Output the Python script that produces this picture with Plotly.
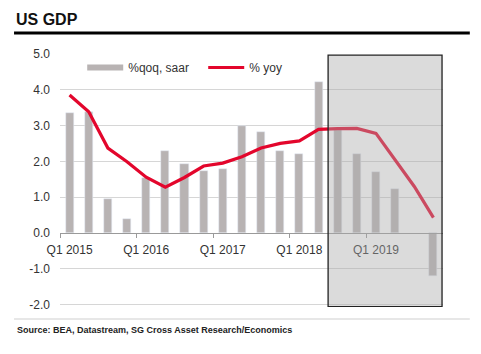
import plotly.graph_objects as go

quarters = [f"Q{q} {y}" for y in range(2015, 2020) for q in range(1, 5)]
qoq_saar = [3.34, 3.37, 0.96, 0.38, 1.53, 2.28, 1.94, 1.74, 1.78, 2.99,
            2.81, 2.28, 2.21, 4.22, 2.87, 2.20, 1.70, 1.22, None, -1.20]
yoy = [3.85, 3.38, 2.37, 1.99, 1.56, 1.28, 1.55, 1.87, 1.95, 2.13,
       2.37, 2.50, 2.57, 2.89, 2.91, 2.92, 2.78, 2.04, 1.30, 0.43]
tick_labels = ["Q1 2015", "Q1 2016", "Q1 2017", "Q1 2018", "Q1 2019"]
y_ticks = [5, 4, 3, 2, 1, 0, -1, -2]

idx = list(range(len(quarters)))
bar_color = "#b8b3b3"
red = "#e3062c"
font = "Liberation Sans, Arial, sans-serif"

y_lo, y_hi = -2.06, 5.02
H = 254  # plot height in px

fig = go.Figure()
fig.add_trace(go.Bar(x=idx, y=qoq_saar, width=0.42, marker_color=bar_color,
                     name="%qoq, saar", legendgroup="qoq", showlegend=False,
                     customdata=quarters))
# legend proxy so the legend shows a wide bar-like swatch
fig.add_trace(go.Scatter(x=[None], y=[None], mode="lines", name="%qoq, saar",
                         legendgroup="qoq", line=dict(color=bar_color, width=6)))
fig.add_trace(go.Scatter(x=idx, y=yoy, mode="lines", name="% yoy",
                         line=dict(color=red, width=3.2)))

# shaded forecast box (drawn above traces)
fig.add_shape(type="rect", xref="x", yref="y", x0=13.5, x1=19.45,
              y0=-2.05, y1=4.96, layer="above",
              fillcolor="rgba(170,170,170,0.42)",
              line=dict(color="#222222", width=1.3))

# title rule and source rule
fig.add_shape(type="line", xref="paper", yref="paper", x0=-0.12, x1=1.07,
              y0=1 + (53 - 33) / H, y1=1 + (53 - 33) / H,
              line=dict(color="black", width=2.8))
fig.add_shape(type="line", xref="paper", yref="paper", x0=-0.12, x1=1.07,
              y0=-(319 - 307) / H, y1=-(319 - 307) / H,
              line=dict(color="#cfcfcf", width=1))

fig.add_annotation(text="<b>US GDP</b>", xref="paper", yref="paper",
                   x=-0.12, y=1 + (53 - 9) / H, xanchor="left", yanchor="top",
                   showarrow=False, font=dict(family=font, size=16, color="#111111"))
fig.add_annotation(text="<b>Source: BEA, Datastream, SG Cross Asset Research/Economics</b>",
                   xref="paper", yref="paper", x=-0.117, y=-(323 - 307) / H,
                   xanchor="left", yanchor="top", showarrow=False,
                   font=dict(family=font, size=9, color="#222222"))

fig.update_layout(
    width=481, height=354,
    margin=dict(l=60, r=38, t=53, b=47),
    paper_bgcolor="white", plot_bgcolor="white",
    font=dict(family=font, size=12, color="#333333"),
    showlegend=True,
    legend=dict(orientation="h", x=0.058, y=1.0, xanchor="left", yanchor="top",
                bgcolor="rgba(0,0,0,0)", font=dict(size=12, color="#333333"),
                itemwidth=36, traceorder="normal",
                entrywidth=70, entrywidthmode="pixels"),
    bargap=0,
)
fig.update_xaxes(
    range=[-0.5, 19.5], tickmode="array", tickvals=[0, 4, 8, 12, 16],
    ticktext=tick_labels, ticks="", showgrid=False,
    showline=True, linecolor="#9a9a9a", linewidth=1,
    anchor="free", position=(0 - y_lo) / (y_hi - y_lo),
    ticklabelstandoff=6,
    minor=dict(tickmode="array", tickvals=[-0.5, 3.5, 7.5, 11.5, 15.5],
               ticks="outside", ticklen=4, tickcolor="#9a9a9a", showgrid=False),
    tickfont=dict(size=12, color="#333333"), fixedrange=True,
)
fig.update_yaxes(
    range=[y_lo, y_hi], tickmode="array", tickvals=y_ticks,
    ticktext=[f"{v:.1f}" for v in y_ticks],
    showgrid=True, gridcolor="#d6d6d6", gridwidth=1, zeroline=False,
    showline=False, ticks="", ticklabelstandoff=9,
    tickfont=dict(size=12, color="#333333"), fixedrange=True,
)

fig.write_html("out.html")
